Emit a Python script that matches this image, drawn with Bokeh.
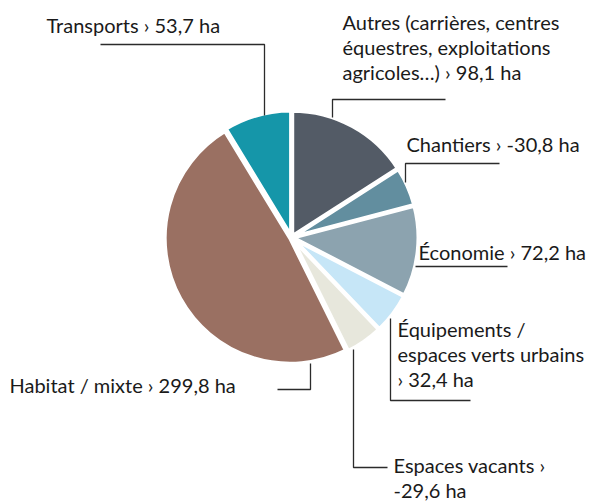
import numpy as np
from bokeh.plotting import figure
from bokeh.models import Range1d, ColumnDataSource
from bokeh.core.properties import value
from bokeh.embed import file_html
from bokeh.resources import INLINE

# ---- data ----
categories = ["Autres", "Chantiers", "Économie", "Équipements", "Espaces vacants", "Habitat", "Transports"]
values_ha = [98.1, -30.8, 72.2, 32.4, -29.6, 299.8, 53.7]
colors = ["#535b66", "#628e9f", "#8ca3af", "#c6e6f7", "#e7e7dc", "#9a7062", "#1596a9"]
label_lines = [
    ["Autres (carrières, centres", "équestres, exploitations", "agricoles…) › 98,1 ha"],
    ["Chantiers › -30,8 ha"],
    ["Économie › 72,2 ha"],
    ["Équipements /", "espaces verts urbains", "› 32,4 ha"],
    ["Espaces vacants ›", "-29,6 ha"],
    ["Habitat / mixte › 299,8 ha"],
    ["Transports › 53,7 ha"],
]

# ---- layout (page pixel coords, y downward) ----
W, H = 612, 502
def Y(py):
    return 502 - py

cx, cy, R = 291.0, 237.0, 125.5
explode = 1.5
text_shift = -9
label_pos = [(342, 30), (406, 152), (418, 260), (397, 337), (393, 473), (9, 393), (46, 33)]
line_step = 25
leaders = [
    [(445, 99), (332, 99), (332, 117)],
    [(499, 163), (405, 163), (405, 182)],
    [(415, 266), (507, 266)],
    [(390, 318), (390, 400), (470, 400)],
    [(353, 349), (353, 467), (387, 467)],
    [(310, 363), (310, 389), (277, 389)],
    [(100, 44), (264, 44), (264, 115)],
]

p = figure(width=W, height=H, x_range=Range1d(0, W), y_range=Range1d(502 - H, 502),
           toolbar_location=None, output_backend="svg", min_border=0,
           x_axis_location=None, y_axis_location=None)
p.grid.visible = False
p.outline_line_color = None
p.background_fill_color = "white"
p.border_fill_color = "white"

mag = np.abs(np.array(values_ha))
frac = mag / mag.sum()
cum = np.concatenate([[0], np.cumsum(frac)])
start = np.pi / 2 - cum[:-1] * 2 * np.pi
end = np.pi / 2 - cum[1:] * 2 * np.pi
mid = (start + end) / 2
xs = cx + explode * np.cos(mid)
ys = Y(cy) + explode * np.sin(mid)

src = ColumnDataSource(dict(x=xs, y=ys, start=start, end=end, color=colors, cat=categories))
p.wedge(x="x", y="y", radius=R, start_angle="start", end_angle="end", direction="clock",
        fill_color="color", line_color="white", line_width=4, source=src)

# leader lines
p.multi_line(xs=[[pt[0] for pt in l] for l in leaders],
             ys=[[Y(pt[1]) for pt in l] for l in leaders],
             line_color="#2b2b2b", line_width=1.3)

# labels
tx, ty, tt = [], [], []
for (lx, ly), lines in zip(label_pos, label_lines):
    for k, s in enumerate(lines):
        tx.append(lx)
        ty.append(Y(ly + k * line_step + text_shift))
        tt.append(s)
p.text(x=tx, y=ty, text=tt, text_font=value("Lato"), text_font_size="20px",
       text_color="#1a1a1a", text_align="left", text_baseline="alphabetic")

open("out.html", "w").write(file_html(p, INLINE))
